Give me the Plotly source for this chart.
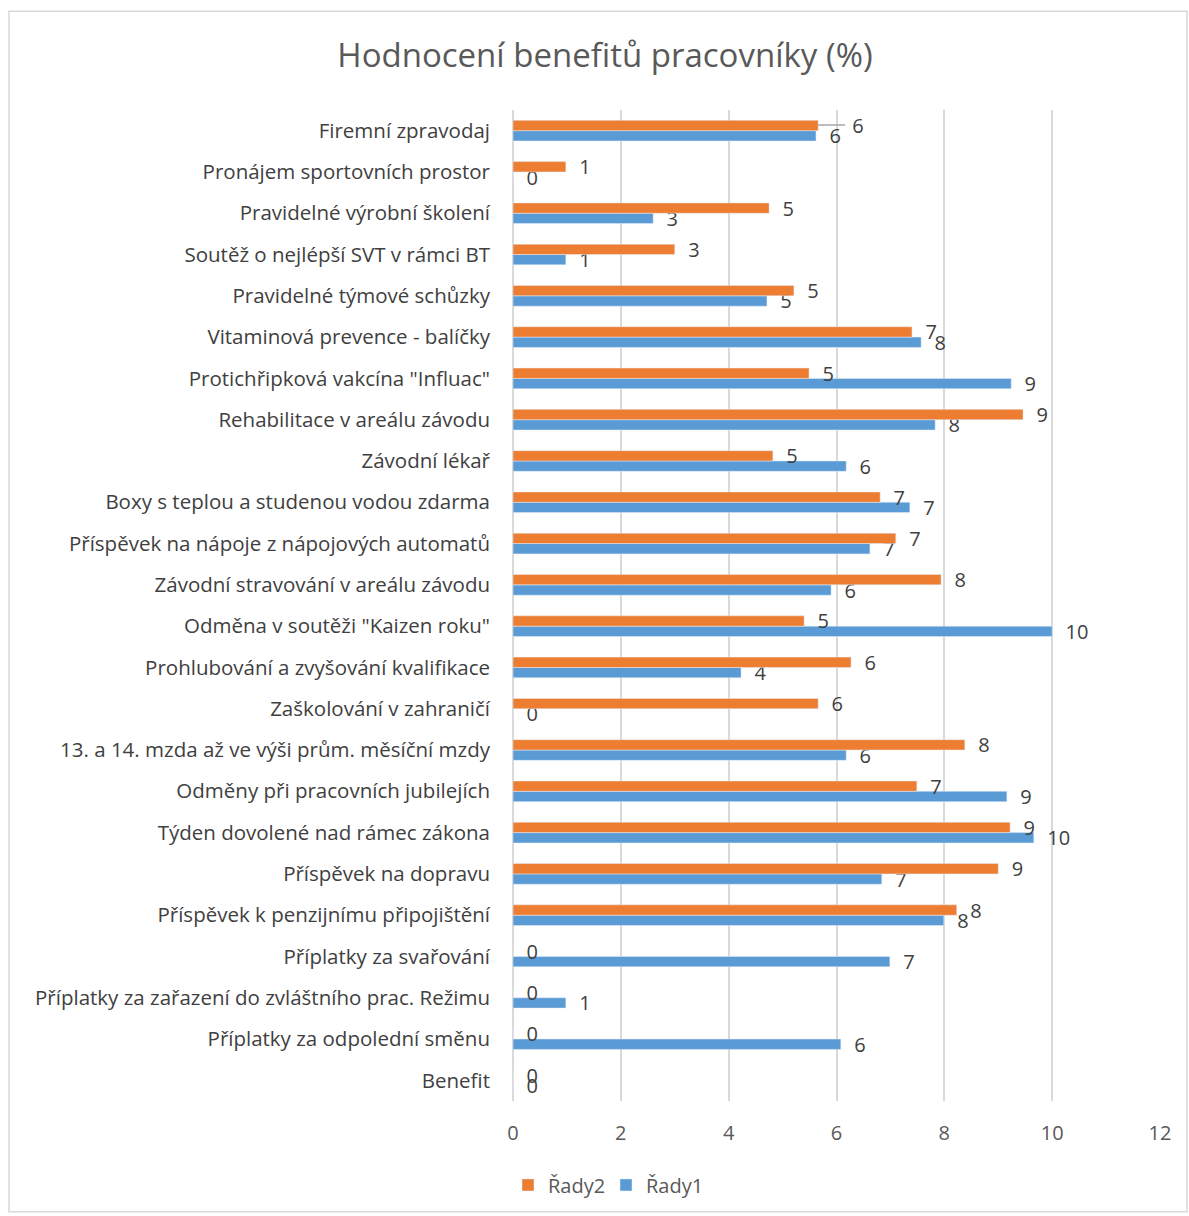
import plotly.graph_objects as go

categories = [
    "Benefit",
    "Příplatky za odpolední směnu",
    "Příplatky za zařazení do zvláštního prac. Režimu",
    "Příplatky za svařování",
    "Příspěvek k penzijnímu připojištění",
    "Příspěvek na dopravu",
    "Týden dovolené nad rámec zákona",
    "Odměny při pracovních jubilejích",
    "13. a 14. mzda až ve výši prům. měsíční mzdy",
    "Zaškolování v zahraničí",
    "Prohlubování a zvyšování kvalifikace",
    "Odměna v soutěži \"Kaizen roku\"",
    "Závodní stravování v areálu závodu",
    "Příspěvek na nápoje z nápojových automatů",
    "Boxy s teplou a studenou vodou zdarma",
    "Závodní lékař",
    "Rehabilitace v areálu závodu",
    "Protichřipková vakcína \"Influac\"",
    "Vitaminová prevence - balíčky",
    "Pravidelné týmové schůzky",
    "Soutěž o nejlépší SVT v rámci BT",
    "Pravidelné výrobní školení",
    "Pronájem sportovních prostor",
    "Firemní zpravodaj",
]

rady1 = [0, 6.08, 0.98, 6.99, 7.99, 6.84, 9.66, 9.16, 6.18, 0, 4.23, 10.0,
         5.9, 6.62, 7.36, 6.18, 7.83, 9.24, 7.57, 4.71, 0.98, 2.6, 0, 5.62]
rady2 = [0, 0, 0, 0, 8.23, 9.0, 9.22, 7.49, 8.38, 5.66, 6.27, 5.4,
         7.94, 7.1, 6.81, 4.82, 9.46, 5.49, 7.4, 5.21, 3.0, 4.75, 0.98, 5.66]

FONT = "Open Sans, Liberation Sans, sans-serif"
text_font = dict(family=FONT, size=20, color="#404040")

pad = "\u00a0\u00a0"
# the top orange label was moved aside (with a leader line) in the original
tmpl2 = [pad + "%{x:.0f}"] * len(categories)
tmpl2[-1] = "\u00a0" * 6 + "%{x:.0f}"

fig = go.Figure()
fig.add_trace(go.Bar(
    y=categories, x=rady1, orientation="h", name="Řady1",
    marker=dict(color="#5B9BD5"),
    texttemplate=pad + "%{x:.0f}", textposition="outside", textfont=text_font,
    constraintext="none", cliponaxis=False,
))
fig.add_trace(go.Bar(
    y=categories, x=rady2, orientation="h", name="Řady2",
    marker=dict(color="#ED7D31"),
    texttemplate=tmpl2, textposition="outside", textfont=text_font,
    constraintext="none", cliponaxis=False,
))

fig.update_layout(
    width=1189, height=1216,
    paper_bgcolor="white", plot_bgcolor="white",
    margin=dict(l=513, r=29, t=110, b=113),
    barmode="group", bargap=0.5, bargroupgap=0,
    title=dict(text="Hodnocení benefitů pracovníky (%)", x=605 / 1189, xref="container",
               xanchor="center", y=1 - 55 / 1216, yanchor="middle",
               font=dict(family=FONT, size=33, color="#595959")),
    font=dict(family=FONT, color="#595959"),
    xaxis=dict(range=[0, 12], dtick=2, showgrid=True, gridcolor="#D9D9D9", gridwidth=1.5,
               zeroline=True, zerolinecolor="#D9D9D9", zerolinewidth=1.5,
               tickfont=dict(size=20, color="#595959"), ticks="", ticklabelstandoff=18,
               showline=False),
    yaxis=dict(type="category", tickfont=dict(size=20.5, color="#404040"),
               ticks="", ticklabelstandoff=22, showgrid=False, showline=False),
    legend=dict(orientation="h", x=(508 - 513) / 647, xanchor="left", y=-0.065, yanchor="top",
                traceorder="reversed", font=dict(size=20, color="#595959"),
                itemwidth=30, entrywidth=53, entrywidthmode="pixels"),
    showlegend=True,
)

# leader line for the relocated top label
fig.add_shape(type="line", xref="x", yref="paper",
              x0=rady2[-1], x1=rady2[-1] + 0.5,
              y0=(1103 - 125) / 993, y1=(1103 - 125) / 993,
              line=dict(color="#A6A6A6", width=1.5))

fig.add_shape(type="rect", xref="paper", yref="paper",
              x0=(9 - 513) / 647, x1=(1187 - 513) / 647,
              y0=(1103 - 1214) / 993, y1=(1103 - 11) / 993,
              line=dict(color="#D9D9D9", width=1.5), fillcolor="rgba(0,0,0,0)", layer="below")

fig.write_html("out.html")
